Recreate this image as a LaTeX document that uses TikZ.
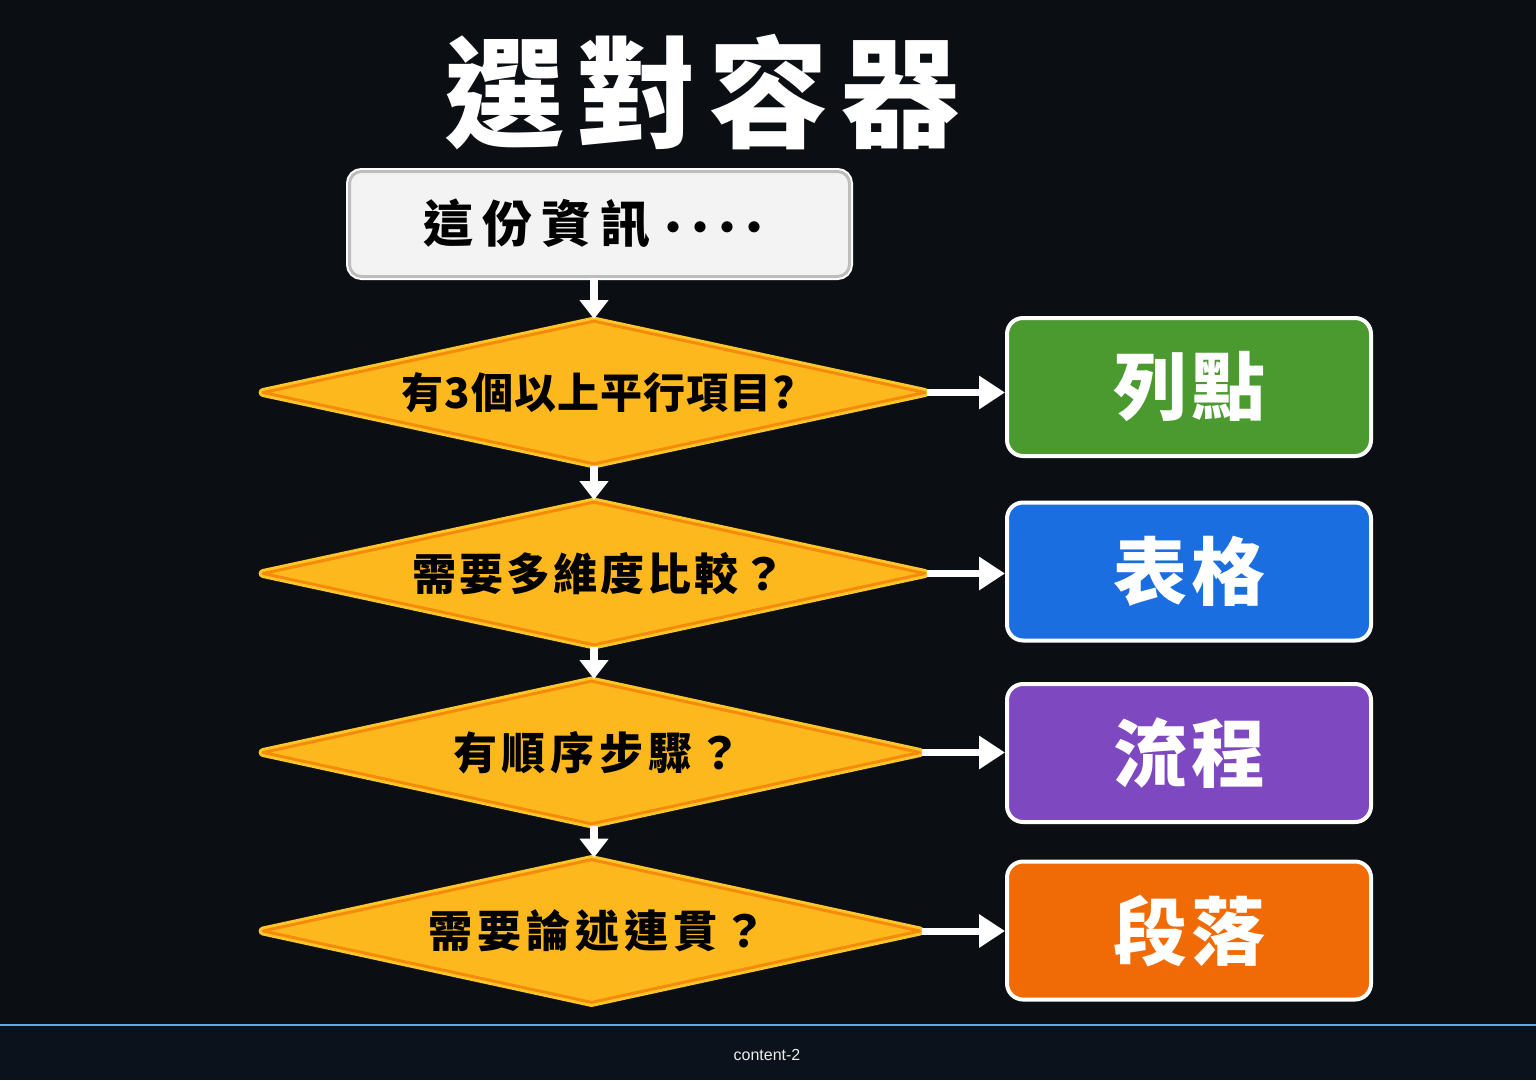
\documentclass[tikz,border=0pt]{standalone}
\usepackage{fontspec}
\setmainfont{Liberation Sans}
\newfontfamily\cjk{Noto Sans CJK TC}
\usetikzlibrary{arrows.meta,shapes.geometric}
\definecolor{bg}{HTML}{0B0E13}
\definecolor{footbg}{HTML}{0C121C}
\definecolor{footline}{HTML}{5AAAF0}
\definecolor{startfill}{HTML}{F3F3F3}
\definecolor{startedge}{HTML}{BDBDBD}
\definecolor{dfill}{HTML}{FDB81E}
\definecolor{dorange}{HTML}{F68B0A}
\definecolor{dyellow}{HTML}{FFC629}
\definecolor{rgreen}{HTML}{4A9A2F}
\definecolor{rblue}{HTML}{1A6EE0}
\definecolor{rpurple}{HTML}{7E48C0}
\definecolor{rorange}{HTML}{F06A05}
\newcommand\K{\kern5pt}
\newcommand\KT{\kern3pt}
\newcommand\KK{\kern1pt}
\newcommand\dotc{\makebox[27pt]{\fontsize{40}{40}\selectfont ·}}
\begin{document}
\begin{tikzpicture}[x=1pt,y=-1pt,
  titletext/.style={text=white, font=\cjk\bfseries\fontsize{120}{120}\selectfont, inner sep=0pt},
  startbox/.style={rectangle, rounded corners=12pt, fill=startfill, draw=startedge, line width=3pt,
    minimum width=500pt, minimum height=105pt, inner sep=0pt,
    preaction={draw=white, line width=7pt},
    text=black, font=\cjk\bfseries\fontsize{50}{52}\selectfont},
  decision/.style={diamond, aspect=4.6, inner sep=0pt, minimum width=663pt, minimum height=144pt,
    fill=dfill, draw=dorange, line width=3pt, line join=round,
    preaction={draw=dyellow, line width=9pt, line join=round},
    text=black, font=\cjk\bfseries\fontsize{44}{46}\selectfont},
  result/.style={rectangle, rounded corners=16pt, draw=white, line width=4pt,
    minimum width=364pt, minimum height=138pt, inner sep=0pt,
    text=white, font=\cjk\bfseries\fontsize{74}{76}\selectfont},
  harrow/.style={draw=white, line width=7pt, -{Triangle[width=32pt,length=26pt]}},
  varrow/.style={draw=white, line width=8pt, -{Triangle[width=28pt,length=19pt]}},
  foottext/.style={text=white!85!gray, font=\fontsize{16}{18}\selectfont}
]
\fill[bg] (0,0) rectangle (1536,1080);
\useasboundingbox (0,0) rectangle (1536,1080);
\fill[footbg] (0,1025) rectangle (1536,1080);
\draw[footline, line width=2pt] (0,1025) -- (1536,1025);
\node[foottext] (foot) at (767,1055) {content-2};

\node[titletext] (title) at (702,92) {選\kern12pt 對\kern12pt 容\kern12pt 器};

\node[startbox] (start) at (599.5,224) {這\kern9pt 份\kern9pt 資\kern9pt 訊\kern10pt \dotc\dotc\dotc\dotc\kern8pt};

\node[decision, font=\cjk\bfseries\fontsize{42}{44}\selectfont] (d1) at (594,392.5) {\kern8pt 有\KK{}3\KK{}個\KK{}以\KK{}上\KK{}平\KK{}行\KK{}項\KK{}目\KK{}?};
\node[decision] (d2) at (594,573.5) {\kern10pt 需\KT{}要\KT{}多\KT{}維\KT{}度\KT{}比\KT{}較\KT{}？};
\node[decision, minimum width=658pt] (d3) at (591.5,752.5) {有\K{}順\K{}序\K{}步\K{}驟\K{}？\kern-12pt};
\node[decision, minimum width=658pt] (d4) at (591.5,931) {需\K{}要\K{}論\K{}述\K{}連\K{}貫\K{}？\kern-12pt};

\node[result, fill=rgreen] (r1) at (1189,387) {列\kern4pt 點};
\node[result, fill=rblue] (r2) at (1189,571.5) {表\kern4pt 格};
\node[result, fill=rpurple] (r3) at (1189,753) {流\kern4pt 程};
\node[result, fill=rorange] (r4) at (1189,930.5) {段\kern4pt 落};

\draw[varrow] (d1.north |- start.south) -- (d1.north);
\draw[varrow] (d1.south) -- (d1.south |- d2.north);
\draw[varrow] (d2.south) -- (d2.south |- d3.north);
\draw[varrow] (d2.south |- d3.south) -- (d2.south |- d4.north);

\draw[harrow] (d1.east) -- (d1.east -| r1.west);
\draw[harrow] (d2.east) -- (d2.east -| r2.west);
\draw[harrow] (d3.east) -- (d3.east -| r3.west);
\draw[harrow] (d4.east) -- (d4.east -| r4.west);
\end{tikzpicture}
\end{document}
